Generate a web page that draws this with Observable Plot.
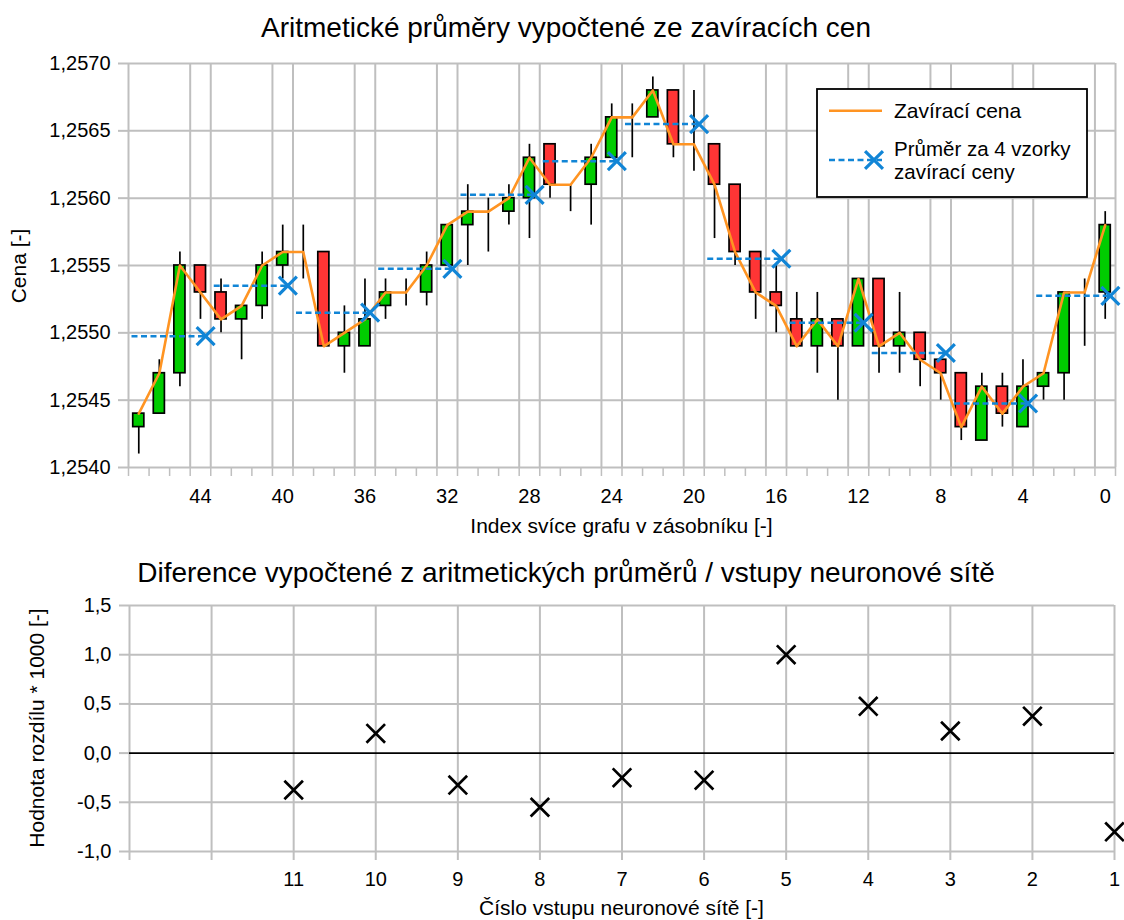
<!DOCTYPE html>
<html><head><meta charset="utf-8">
<script src="https://cdn.jsdelivr.net/npm/d3@7"></script>
<script src="https://cdn.jsdelivr.net/npm/@observablehq/plot@0.6"></script>
<style>
body{margin:0;background:#fff;}
#wrap{position:relative;width:1124px;height:920px;overflow:hidden;background:#fff;font-family:'Liberation Sans',Arial,sans-serif;}
#wrap > svg{position:absolute;left:0;}
</style></head><body><div id="wrap"></div>
<script>
// ---------- data ----------
const candleIndex = [47,46,45,44,43,42,41,40,39,38,37,36,35,34,33,32,31,30,29,28,27,26,25,24,23,22,21,20,19,18,17,16,15,14,13,12,11,10,9,8,7,6,5,4,3,2,1,0];
const openPrice  = [1.2543,1.2544,1.2547,1.2555,1.2553,1.2551,1.2552,1.2555,1.2556,1.2556,1.2549,1.2549,1.2552,1.2553,1.2553,1.2555,1.2558,1.2559,1.2559,1.2560,1.2564,1.2561,1.2561,1.2563,1.2566,1.2566,1.2568,1.2564,1.2564,1.2561,1.2556,1.2553,1.2551,1.2549,1.2551,1.2549,1.2554,1.2549,1.2550,1.2548,1.2547,1.2542,1.2546,1.2543,1.2546,1.2547,1.2553,1.2553];
const highPrice  = [1.2544,1.2548,1.2556,1.2555,1.2554,1.2552,1.2556,1.2558,1.2558,1.2556,1.2552,1.2554,1.2554,1.2554,1.2556,1.2558,1.2561,1.2560,1.2561,1.2564,1.2564,1.2561,1.2564,1.2567,1.2567,1.2569,1.2568,1.2568,1.2564,1.2561,1.2556,1.2555,1.2553,1.2553,1.2551,1.2554,1.2554,1.2553,1.2550,1.2548,1.2547,1.2547,1.2547,1.2548,1.2547,1.2553,1.2554,1.2559];
const lowPrice   = [1.2541,1.2544,1.2546,1.2551,1.2550,1.2548,1.2551,1.2554,1.2554,1.2549,1.2547,1.2549,1.2551,1.2552,1.2552,1.2555,1.2555,1.2556,1.2558,1.2557,1.2560,1.2559,1.2558,1.2563,1.2563,1.2566,1.2563,1.2562,1.2557,1.2555,1.2551,1.2550,1.2549,1.2547,1.2545,1.2549,1.2547,1.2547,1.2546,1.2545,1.2542,1.2542,1.2543,1.2543,1.2545,1.2545,1.2549,1.2551];
const closePrice = [1.2544,1.2547,1.2555,1.2553,1.2551,1.2552,1.2555,1.2556,1.2556,1.2549,1.2550,1.2551,1.2553,1.2553,1.2555,1.2558,1.2559,1.2559,1.2560,1.2563,1.2561,1.2561,1.2563,1.2566,1.2566,1.2568,1.2564,1.2564,1.2561,1.2556,1.2553,1.2552,1.2549,1.2551,1.2549,1.2554,1.2549,1.2550,1.2548,1.2547,1.2543,1.2546,1.2544,1.2546,1.2547,1.2553,1.2553,1.2558];

const avgFirstIndex = [47,43,39,35,31,27,23,19,15,11,7,3];
const avgLastIndex  = [44,40,36,32,28,24,20,16,12,8,4,0];
const avgValue = [1.254975,1.25535,1.25515,1.255475,1.256025,1.256275,1.25655,1.25555,1.255075,1.25485,1.254475,1.255275];

const xTickLabels = [44,40,36,32,28,24,20,16,12,8,4,0];
const yTicksTop = [1.2540,1.2545,1.2550,1.2555,1.2560,1.2565,1.2570];

const inputNumber = [11,10,9,8,7,6,5,4,3,2,1];
const diffValue = [-0.375,0.2,-0.325,-0.55,-0.25,-0.275,1.0,0.475,0.225,0.375,-0.8];
const inputGrid = [13,12,11,10,9,8,7,6,5,4,3,2,1];
const yTicksBottom = [-1.0,-0.5,0.0,0.5,1.0,1.5];

// ---------- styles ----------
const FONT = "'Liberation Sans', Arial, sans-serif";
const GRID = "#bfbfbf";
const GREEN = "#00cc00", RED = "#ff3535", ORANGE = "#ff9422", BLUE = "#1185d6";

const candles = candleIndex.map((idx, i) => ({idx, open: openPrice[i], high: highPrice[i], low: lowPrice[i], close: closePrice[i]}));
const avgs = avgValue.map((v, i) => ({value: v, first: avgFirstIndex[i], last: avgLastIndex[i]}));
const diffs = inputNumber.map((n, i) => ({input: n, value: diffValue[i]}));

const fmtTop = d => d.toFixed(4).replace(".", ",");
const fmtBottom = d => (d < 0 ? "-" : "") + Math.abs(d).toFixed(1).replace(".", ",");

const wrapEl = document.getElementById("wrap");

// ---------- top chart ----------
const topChart = Plot.plot({
  width: 1124, height: 545,
  marginLeft: 128, marginRight: 9, marginTop: 63, marginBottom: 78,
  style: {fontFamily: FONT, fontSize: "20px", color: "black", background: "transparent", overflow: "visible"},
  x: {type: "linear", domain: [47.5, -0.5]},
  y: {domain: [1.2540, 1.2570]},
  color: {type: "identity"},
  marks: [
    Plot.ruleY(yTicksTop, {stroke: GRID, strokeWidth: 2}),
    Plot.ruleX([47.5, ...xTickLabels.flatMap(L => [L + 0.5, L - 0.5])], {stroke: GRID, strokeWidth: 2}),
    Plot.axisY(yTicksTop, {tickSize: 10, tickPadding: 8, tickFormat: fmtTop, stroke: GRID, strokeWidth: 2, fill: "black", fontSize: 20, label: null}),
    Plot.axisX([...candleIndex.map(i => i + 0.5), -0.5], {tickSize: 9, tickFormat: () => "", stroke: GRID, strokeWidth: 1.5, label: null}),
    Plot.axisX(xTickLabels, {tickSize: 0, tickPadding: 21, tickFormat: d => String(d), fill: "black", fontSize: 20, label: null}),
    Plot.ruleX(candles, {x: "idx", y1: "low", y2: "high", stroke: "black", strokeWidth: 1.7}),
    Plot.rect(candles.filter(d => d.open !== d.close), {
      x1: d => d.idx + 0.27, x2: d => d.idx - 0.27, y1: "open", y2: "close",
      fill: d => d.close > d.open ? GREEN : RED, stroke: "black", strokeWidth: 1.7
    }),
    Plot.line(candles, {x: "idx", y: "close", stroke: ORANGE, strokeWidth: 2.6}),
    Plot.ruleY(avgs, {y: "value", x1: d => d.first + 0.33, x2: d => d.last - 0.25, stroke: BLUE, strokeWidth: 2.5, strokeDasharray: "6,3.5"}),
    Plot.dot(avgs, {x: d => d.last - 0.25, y: "value", symbol: "times", r: 8.2, stroke: BLUE, strokeWidth: 3.2})
  ]
});
topChart.style.top = "0px";
wrapEl.appendChild(topChart);

// ---------- bottom chart ----------
const bottomChart = Plot.plot({
  width: 1124, height: 375,
  marginLeft: 129, marginRight: 10, marginTop: 60, marginBottom: 69,
  style: {fontFamily: FONT, fontSize: "20px", color: "black", background: "transparent", overflow: "visible"},
  x: {type: "linear", domain: [13, 1]},
  y: {domain: [-1.0, 1.5]},
  marks: [
    Plot.ruleY(yTicksBottom.filter(v => v !== 0), {stroke: GRID, strokeWidth: 2}),
    Plot.ruleX(inputGrid, {stroke: GRID, strokeWidth: 2}),
    Plot.ruleY([0], {stroke: "black", strokeWidth: 1.8}),
    Plot.axisY(yTicksBottom, {tickSize: 10, tickPadding: 8, tickFormat: fmtBottom, stroke: GRID, strokeWidth: 2, fill: "black", fontSize: 20, label: null}),
    Plot.axisX(inputGrid, {tickSize: 9, tickPadding: 11, tickFormat: d => inputNumber.includes(d) ? String(d) : "", stroke: GRID, strokeWidth: 2, fill: "black", fontSize: 20, label: null}),
    Plot.dot(diffs, {x: "input", y: "value", symbol: "times", r: 8.5, stroke: "black", strokeWidth: 2.7})
  ]
});
bottomChart.style.top = "545px";
wrapEl.appendChild(bottomChart);

// ---------- titles, axis titles, legend ----------
const ov = d3.create("svg").attr("width", 1124).attr("height", 920)
  .style("top", "0px").style("font-family", FONT).style("pointer-events", "none");
const txt = (s, x, y, size, anchor = "middle", rot = 0) => {
  const t = ov.append("text").attr("x", x).attr("y", y).attr("font-size", size)
    .attr("text-anchor", anchor).attr("fill", "black").text(s);
  if (rot) t.attr("transform", `rotate(${rot},${x},${y})`);
  return t;
};
txt("Aritmetické průměry vypočtené ze zavíracích cen", 566, 36.7, 28);
txt("Diference vypočtené z aritmetických průměrů / vstupy neuronové sítě", 566, 581.7, 28);
txt("Index svíce grafu v zásobníku [-]", 621.5, 532.7, 21);
txt("Číslo vstupu neuronové sítě [-]", 621.5, 915, 21);
txt("Cena [-]", 26, 266, 21, "middle", -90);
txt("Hodnota rozdílu * 1000 [-]", 44, 728, 21, "middle", -90);

// legend
const lg = ov.append("g");
lg.append("rect").attr("x", 817).attr("y", 89).attr("width", 270).attr("height", 108)
  .attr("fill", "white").attr("stroke", "black").attr("stroke-width", 1.8);
lg.append("line").attr("x1", 829).attr("x2", 882).attr("y1", 110.7).attr("y2", 110.7)
  .attr("stroke", ORANGE).attr("stroke-width", 2.6);
lg.append("line").attr("x1", 829).attr("x2", 882).attr("y1", 160).attr("y2", 160)
  .attr("stroke", BLUE).attr("stroke-width", 2.5).attr("stroke-dasharray", "6,3.5");
lg.append("path").attr("d", d3.symbol(d3.symbolTimes, Math.PI * 8.2 * 8.2)())
  .attr("transform", "translate(874,160)").attr("fill", "none").attr("stroke", BLUE).attr("stroke-width", 3.2);
txt("Zavírací cena", 894, 118.3, 21, "start");
txt("Průměr za 4 vzorky", 894, 156, 20.5, "start");
txt("zavírací ceny", 894, 179, 20.5, "start");
wrapEl.appendChild(ov.node());
</script></body></html>
